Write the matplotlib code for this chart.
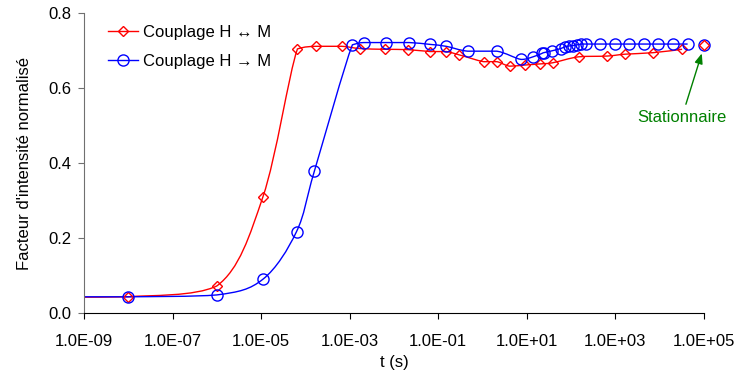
import numpy as np
import matplotlib
matplotlib.use("Agg")
import matplotlib.pyplot as plt
from matplotlib.path import Path
from matplotlib.patches import PathPatch
from matplotlib.ticker import FixedLocator, FuncFormatter, NullLocator

plt.rcParams['font.family'] = ['Liberation Sans', 'DejaVu Sans']

# Couplage H <-> M
t_red = [1e-9, 1e-8, 1e-6, 1.1e-5, 6.6e-5, 1.7e-4, 6.6e-4, 1.7e-3, 6.2e-3, 0.021,
         0.066, 0.15, 0.30, 1.05, 2.1, 4.1, 8.9, 19.5, 38, 148, 650, 1660, 7100, 32000]
y_red = [0.043, 0.044, 0.073, 0.311, 0.705, 0.712, 0.712, 0.706, 0.704, 0.703,
         0.698, 0.698, 0.689, 0.671, 0.671, 0.659, 0.662, 0.665, 0.668, 0.684,
         0.686, 0.691, 0.695, 0.704]

# Couplage H -> M
t_blue = [1e-9, 1e-8, 1e-6, 1.1e-5, 6.3e-5, 1.6e-4, 1.15e-3, 2.1e-3, 6.6e-3, 0.022,
          0.066, 0.15, 0.46, 2.1, 7.4, 13.8, 21.9, 24, 37, 58, 74, 91, 112, 138,
          170, 214, 457, 955, 2000, 4400, 9300, 20000, 42700]
y_blue = [0.044, 0.044, 0.049, 0.091, 0.218, 0.380, 0.716, 0.722, 0.722, 0.722,
          0.717, 0.712, 0.699, 0.699, 0.677, 0.684, 0.693, 0.695, 0.700, 0.706,
          0.711, 0.713, 0.714, 0.716, 0.718, 0.718, 0.718, 0.718, 0.718, 0.718,
          0.718, 0.718, 0.718]

# stationary state
t_stat = 1e5
y_stat_red = 0.716
y_stat_blue = 0.716

xticks = [1e-9, 1e-7, 1e-5, 1e-3, 1e-1, 1e1, 1e3, 1e5]

FS = 12


def smooth_path(t, y):
    # Excel-like smoothed line: Catmull-Rom Bezier in log-x space,
    # control points kept inside each segment's y range (no overshoot)
    p = np.column_stack([np.log10(t), np.asarray(y, float)])
    n = len(p)
    verts = [p[0]]
    codes = [Path.MOVETO]
    for i in range(n - 1):
        p0 = p[i - 1] if i > 0 else p[i]
        p1, p2 = p[i], p[i + 1]
        p3 = p[i + 2] if i + 2 < n else p[i + 1]
        c1 = p1 + (p2 - p0) / 6
        c2 = p2 - (p3 - p1) / 6
        lo, hi = min(p1[1], p2[1]), max(p1[1], p2[1])
        c1[1] = np.clip(c1[1], lo, hi)
        c2[1] = np.clip(c2[1], lo, hi)
        verts += [c1, c2, p2]
        codes += [Path.CURVE4] * 3
    verts = np.array(verts)
    verts[:, 0] = 10 ** verts[:, 0]
    return Path(verts, codes)


fig = plt.figure(figsize=(7.36, 3.76), dpi=100)
ax = fig.add_axes([84 / 736, 1 - 313.3 / 376, (704 - 84) / 736, 300 / 376])
ax.set_xscale('log')

for t, y, c, m, ms, lab in [(t_red, y_red, '#FF0000', 'D', 5.5, 'Couplage H \u2194 M'),
                            (t_blue, y_blue, '#0000FF', 'o', 8, 'Couplage H \u2192 M')]:
    ax.add_patch(PathPatch(smooth_path(t, y), facecolor='none', edgecolor=c, lw=1))
    ax.plot(t[1:], y[1:], linestyle='none', marker=m, ms=ms, mfc='none', mec=c, mew=1)
    ax.plot([], [], color=c, lw=1, marker=m, ms=ms, mfc='none', mec=c, mew=1, label=lab)

ax.plot([t_stat], [y_stat_blue], linestyle='none', marker='o', ms=8, mfc='none',
        mec='#0000FF', mew=1, clip_on=False)
ax.plot([t_stat], [y_stat_red], linestyle='none', marker='D', ms=5.5, mfc='none',
        mec='#FF0000', mew=1, clip_on=False)

ax.annotate('Stationnaire', xy=(10 ** 4.95, 0.693), xytext=(10 ** 4.5, 0.523),
            ha='center', va='center', color='#008000', fontsize=FS,
            arrowprops=dict(arrowstyle='-|>,head_length=0.5,head_width=0.2',
                            color='#008000', lw=1, shrinkA=2, shrinkB=0))

ax.set_xlim(1e-9, 1e5)
ax.set_ylim(0, 0.8)
ax.xaxis.set_major_locator(FixedLocator(xticks))
ax.xaxis.set_minor_locator(NullLocator())
ax.xaxis.set_major_formatter(FuncFormatter(lambda v, pos: f"{v:.1E}"))
ax.set_yticks([0, 0.2, 0.4, 0.6, 0.8])
ax.yaxis.set_major_formatter(FuncFormatter(lambda v, pos: f"{v:.1f}"))

ax.spines['top'].set_visible(False)
ax.spines['right'].set_visible(False)
ax.spines['left'].set_color('#707070')
ax.spines['bottom'].set_color('black')
ax.tick_params(axis='both', direction='out', length=4, labelsize=FS, pad=6)
ax.tick_params(axis='y', color='#707070', pad=5)
ax.tick_params(axis='x', pad=11)

ax.set_xlabel('t (s)', fontsize=FS, labelpad=4)
ax.set_ylabel("Facteur d'intensit\u00e9 normalis\u00e9", fontsize=FS, labelpad=12)

ax.legend(loc='upper left', bbox_to_anchor=(0.014, 1.01), frameon=False, fontsize=FS,
          handlelength=1.8, handletextpad=0.3, labelspacing=0.8)

fig.savefig('out.png', dpi=100)
